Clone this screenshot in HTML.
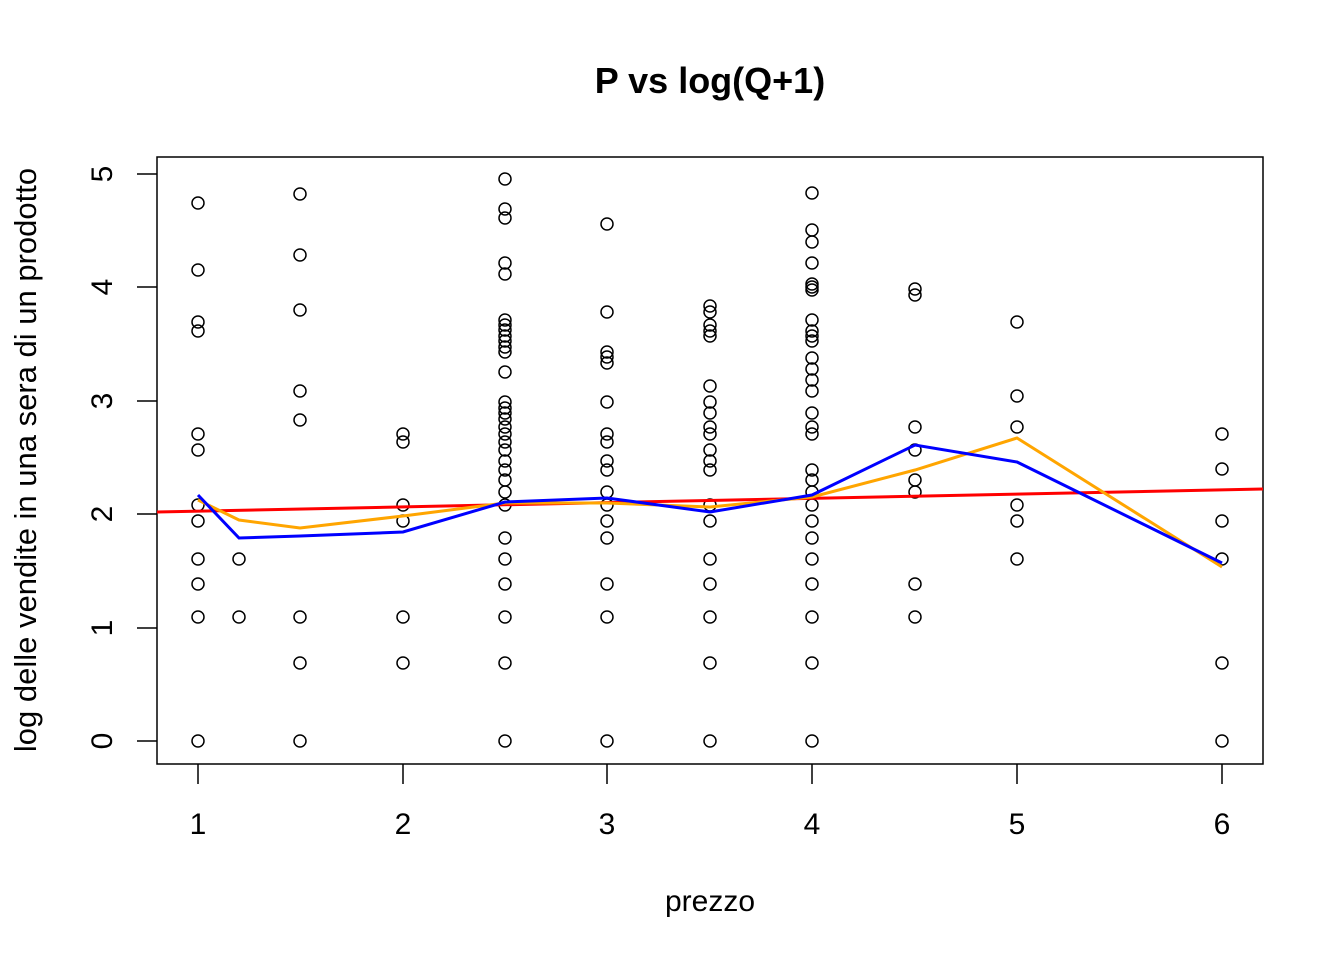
<!DOCTYPE html>
<html><head><meta charset="utf-8"><style>body{margin:0;background:#fff}</style></head>
<body>
<svg width="1344" height="960" xmlns="http://www.w3.org/2000/svg" font-family="Liberation Sans, Arial, sans-serif">
<rect width="1344" height="960" fill="#fff"/>
<text x="710" y="93" text-anchor="middle" font-size="36" font-weight="bold">P vs log(Q+1)</text>
<rect x="157" y="157" width="1106" height="607" fill="none" stroke="#000" stroke-width="1.5"/>
<g stroke="#000" stroke-width="1.5">
<line x1="198" y1="764" x2="198" y2="784"/><line x1="403" y1="764" x2="403" y2="784"/><line x1="607" y1="764" x2="607" y2="784"/><line x1="812" y1="764" x2="812" y2="784"/><line x1="1017" y1="764" x2="1017" y2="784"/><line x1="1222" y1="764" x2="1222" y2="784"/>
<line x1="137" y1="741" x2="157" y2="741"/><line x1="137" y1="628" x2="157" y2="628"/><line x1="137" y1="514" x2="157" y2="514"/><line x1="137" y1="401" x2="157" y2="401"/><line x1="137" y1="287" x2="157" y2="287"/><line x1="137" y1="174" x2="157" y2="174"/>
</g>
<g font-size="30" text-anchor="middle">
<text x="198" y="834">1</text><text x="403" y="834">2</text><text x="607" y="834">3</text><text x="812" y="834">4</text><text x="1017" y="834">5</text><text x="1222" y="834">6</text>
<text x="710" y="911">prezzo</text>
</g>
<g font-size="30" text-anchor="middle">
<text transform="translate(112,741) rotate(-90)">0</text>
<text transform="translate(112,628) rotate(-90)">1</text>
<text transform="translate(112,514) rotate(-90)">2</text>
<text transform="translate(112,401) rotate(-90)">3</text>
<text transform="translate(112,287) rotate(-90)">4</text>
<text transform="translate(112,174) rotate(-90)">5</text>
</g>
<text transform="translate(36,460) rotate(-90)" font-size="31" text-anchor="middle">log delle vendite in una sera di un prodotto</text>
<g id="pts" fill="none" stroke="#000" stroke-width="1.5"></g>
<line x1="157" y1="512" x2="1263" y2="489" stroke="#f00" stroke-width="3"/>
<polyline fill="none" stroke="#FFA500" stroke-width="3" points="198,500 239,520 300,528 403,516 505,503 607,503 710,507 812,497 915,470 1017,438 1222,567"/>
<polyline fill="none" stroke="#00f" stroke-width="3" points="198,495 239,538 300,536 403,532 505,502 607,498 710,512 812,495 915,445 1017,462 1222,563"/>
</svg>
<script>
var d={198:[203,270,322,331,434,450,505,521,559,584,617,741],239:[559,617],300:[194,255,310,391,420,617,663,741],403:[434,442,505,521,617,663],
505:[179,209,218,263,274,320,325,330,336,341,347,352,372,402,408,413,419,427,434,442,450,461,470,480,492,505,538,559,584,617,663,741],
607:[224,312,352,357,363,402,434,442,461,470,492,505,521,538,584,617,741],
710:[306,312,325,331,336,386,402,413,427,434,450,461,470,505,521,559,584,617,663,741],
812:[193,230,242,263,284,287,290,320,331,336,341,358,369,380,391,413,427,434,470,480,492,505,521,538,559,584,617,663,741],
915:[289,295,427,450,480,492,584,617],1017:[322,396,427,505,521,559],1222:[434,469,521,559,663,741]};
var g=document.getElementById('pts'),s='';
for(var x in d)d[x].forEach(function(y){s+='<circle cx="'+x+'" cy="'+y+'" r="6"/>';});
g.innerHTML=s;
</script>
</body></html>
